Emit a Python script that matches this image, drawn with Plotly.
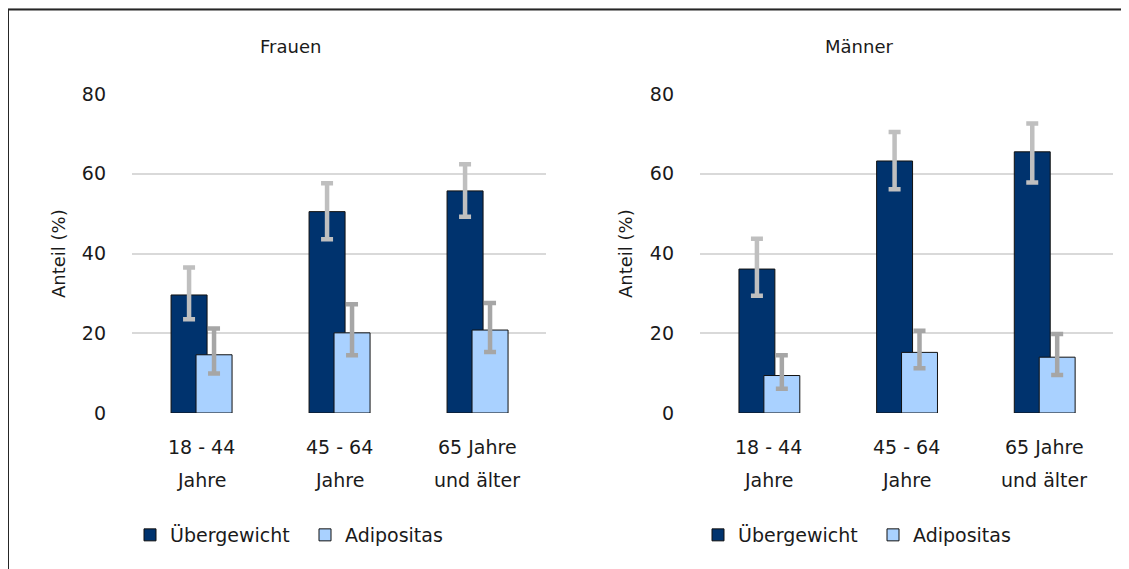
import plotly.graph_objects as go

# Page is rendered with an 8px body margin, so the figure is 8px smaller
OFF = 8
W, H = 1129 - OFF, 569 - OFF

categories = ["18 - 44 Jahre", "45 - 64 Jahre", "65 Jahre und älter"]
cat_line1 = ["18 - 44", "45 - 64", "65 Jahre"]
cat_line2 = ["Jahre", "Jahre", "und älter"]
panels = ["Frauen", "Männer"]
series = ["Übergewicht", "Adipositas"]

# Frauen
f_ueber = [29.6, 50.5, 55.7]
f_ueber_hi = [36.5, 57.6, 62.4]
f_ueber_lo = [23.5, 43.6, 49.2]
f_adipo = [14.6, 20.1, 20.8]
f_adipo_hi = [21.2, 27.3, 27.6]
f_adipo_lo = [9.9, 14.5, 15.3]
# Männer
m_ueber = [36.1, 63.2, 65.5]
m_ueber_hi = [43.7, 70.5, 72.6]
m_ueber_lo = [29.4, 56.1, 57.8]
m_adipo = [9.4, 15.2, 14.0]
m_adipo_hi = [14.5, 20.6, 19.8]
m_adipo_lo = [6.1, 11.2, 9.5]

y_ticks = [0, 20, 40, 60, 80]

DARK = "#00336E"
LIGHT = "#A9D1FF"
ERR_DARK = "#BFBFBF"
ERR_LIGHT = "#A6A6A6"
TXT = "#1A1A1A"
FONT = "DejaVu Sans"
FS = 19


def fx(p):
    return (p - OFF) / W


def fy(p):
    return 1 - (p - OFF) / H


fig = go.Figure()

panel_data = [
    (f_ueber, f_ueber_hi, f_ueber_lo, f_adipo, f_adipo_hi, f_adipo_lo),
    (m_ueber, m_ueber_hi, m_ueber_lo, m_adipo, m_adipo_hi, m_adipo_lo),
]
x_domains = [(fx(132), fx(546)), (fx(700), fx(1113))]
legend_names = ["legend", "legend2"]

for i, (u, uh, ul, a, ah, al) in enumerate(panel_data):
    xa = "x" if i == 0 else "x2"
    ya = "y" if i == 0 else "y2"
    fig.add_trace(go.Bar(
        x=categories, y=u, name=series[0], xaxis=xa, yaxis=ya,
        marker=dict(color=DARK, line=dict(color="#111111", width=1)),
        width=0.261, offset=-0.217,
        error_y=dict(type="data", symmetric=False,
                     array=[h - v for h, v in zip(uh, u)],
                     arrayminus=[v - l for v, l in zip(u, ul)],
                     color=ERR_DARK, thickness=4.5, width=6),
        legend=legend_names[i],
    ))
    fig.add_trace(go.Bar(
        x=categories, y=a, name=series[1], xaxis=xa, yaxis=ya,
        marker=dict(color=LIGHT, line=dict(color="#111111", width=1)),
        width=0.261, offset=-0.036,
        error_y=dict(type="data", symmetric=False,
                     array=[h - v for h, v in zip(ah, a)],
                     arrayminus=[v - l for v, l in zip(a, al)],
                     color=ERR_LIGHT, thickness=4.5, width=6),
        legend=legend_names[i],
    ))

axis_common_y = dict(
    range=[0, 80], tickvals=y_ticks, showgrid=True, gridcolor="#D9D9D9",
    gridwidth=1.5, zeroline=False, showline=False, ticks="",
    tickfont=dict(family=FONT, size=FS, color=TXT), automargin=False,
    ticklabelstandoff=25, domain=[fy(413), fy(94)], fixedrange=True,
)
axis_common_x = dict(
    showticklabels=False, showgrid=False, zeroline=False, showline=False,
    ticks="", automargin=False, fixedrange=True, range=[-0.5, 2.5],
)

legend_common = dict(orientation="h", xanchor="left", yanchor="middle",
                     font=dict(family=FONT, size=FS, color=TXT), itemwidth=30,
                     entrywidth=130, bgcolor="rgba(0,0,0,0)")

fig.update_layout(
    width=W, height=H,
    margin=dict(l=0, r=0, t=0, b=0),
    paper_bgcolor="white", plot_bgcolor="white",
    barmode="overlay",
    font=dict(family=FONT, color=TXT),
    xaxis=dict(domain=list(x_domains[0]), anchor="y", **axis_common_x),
    xaxis2=dict(domain=list(x_domains[1]), anchor="y2", **axis_common_x),
    yaxis=dict(anchor="x", **axis_common_y),
    yaxis2=dict(anchor="x2", **axis_common_y),
    legend=dict(x=fx(130), y=fy(535), **legend_common),
    legend2=dict(x=fx(698), y=fy(535), **legend_common),
)

annotations = []
title_x = [290, 859]
ytitle_x = [58, 625]
for i in range(2):
    xr = "x" if i == 0 else "x2"
    annotations.append(dict(text=panels[i], xref="paper", yref="paper",
                            x=fx(title_x[i]), y=fy(46), xanchor="center", yanchor="middle",
                            showarrow=False, font=dict(family=FONT, size=FS - 1, color=TXT)))
    annotations.append(dict(text="Anteil (%)", xref="paper", yref="paper",
                            x=fx(ytitle_x[i]), y=fy(254), xanchor="center", yanchor="middle",
                            showarrow=False, textangle=-90,
                            font=dict(family=FONT, size=FS - 1, color=TXT)))
    for c, l1, l2 in zip(categories, cat_line1, cat_line2):
        annotations.append(dict(text=l1, xref=xr, yref="paper", x=c, y=fy(447),
                                xanchor="center", yanchor="middle", showarrow=False,
                                font=dict(family=FONT, size=FS, color=TXT)))
        annotations.append(dict(text=l2, xref=xr, yref="paper", x=c, y=fy(480),
                                xanchor="center", yanchor="middle", showarrow=False,
                                font=dict(family=FONT, size=FS, color=TXT)))
fig.update_layout(annotations=annotations)

# Frame lines (top and left)
fig.add_shape(type="line", xref="paper", yref="paper", x0=0, x1=1, y0=fy(8), y1=fy(8),
              line=dict(color="#C8C8C8", width=1))
fig.add_shape(type="line", xref="paper", yref="paper", x0=0, x1=1, y0=fy(9.5), y1=fy(9.5),
              line=dict(color="#262626", width=2))
fig.add_shape(type="line", xref="paper", yref="paper", x0=0, x1=0, y0=fy(9), y1=0,
              line=dict(color="#262626", width=2))

fig.write_html("out.html")
